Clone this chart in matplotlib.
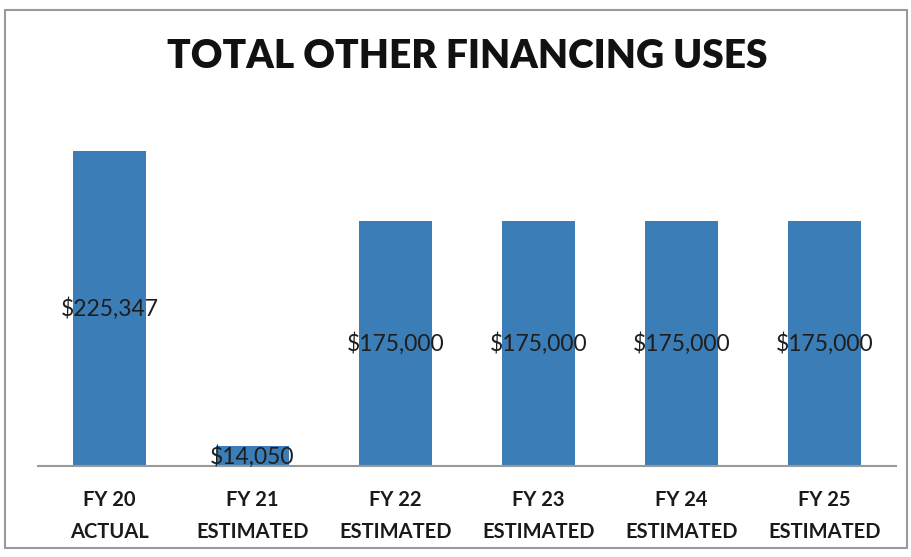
import matplotlib
matplotlib.use("Agg")
import matplotlib.pyplot as plt
from matplotlib.patches import Rectangle
from matplotlib import font_manager

categories = ["FY 20\nACTUAL", "FY 21\nESTIMATED", "FY 22\nESTIMATED",
              "FY 23\nESTIMATED", "FY 24\nESTIMATED", "FY 25\nESTIMATED"]
values = [225347, 14050, 175000, 175000, 175000, 175000]
title = "TOTAL OTHER FINANCING USES"

installed = {f.name for f in font_manager.fontManager.ttflist}
body = "Lato" if "Lato" in installed else "DejaVu Sans"

W, H = 912, 557
fig = plt.figure(figsize=(W / 100, H / 100), dpi=100)

# outer chart frame
fig.patches.append(Rectangle((5 / W, 1 - 548 / H), 902 / W, 538 / H,
                             transform=fig.transFigure, fill=False,
                             edgecolor="#9a9a9a", linewidth=1.5))

ax_left, ax_right = 38, 896
ax_bottom, ax_top = 466, 116
ax = fig.add_axes([ax_left / W, 1 - ax_bottom / H,
                   (ax_right - ax_left) / W, (ax_bottom - ax_top) / H])

x = range(len(categories))
ax.bar(x, values, width=0.505, color="#3b7db6", zorder=2)
ax.set_xlim(-0.5, 5.5)
ax.set_ylim(0, 250000)

for i, v in zip(x, values):
    ax.text(i, v / 2, f"${v:,.0f}", ha="center", va="center",
            fontsize=16.5, family=body, color="#1e1e1e", zorder=3)

for s in ["top", "right", "left"]:
    ax.spines[s].set_visible(False)
ax.spines["bottom"].set_color("#9a9a9a")
ax.spines["bottom"].set_linewidth(1.5)
ax.set_yticks([])
ax.set_xticks(list(x))
ax.set_xticklabels(categories, fontsize=14.5, family=body, fontweight="bold",
                   color="#1a1a1a", linespacing=1.75)
ax.tick_params(axis="x", length=0, pad=17)

fig.text(467 / W, 1 - 57 / H, title, ha="center", va="center",
         fontsize=28, fontweight="heavy", family=body, color="#111111")

fig.savefig("out.png", dpi=100)
